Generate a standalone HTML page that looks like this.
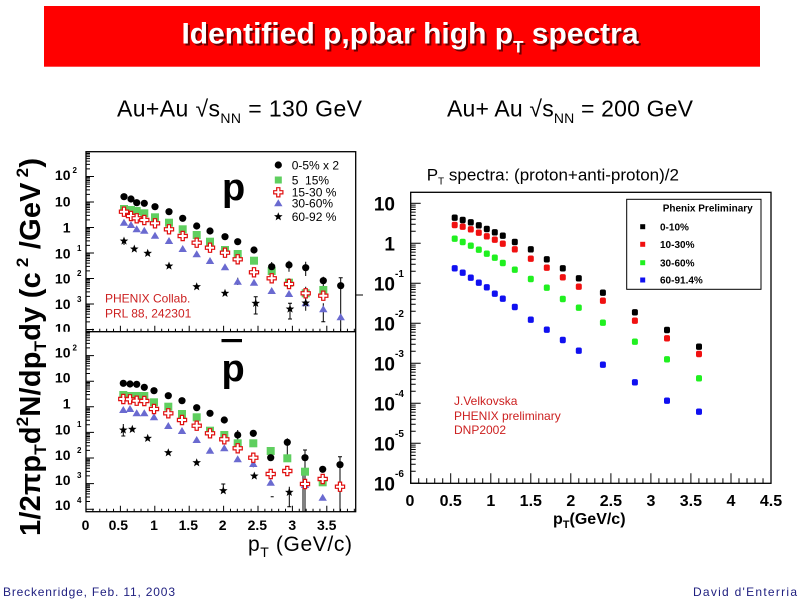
<!DOCTYPE html>
<html><head><meta charset="utf-8"><style>html,body{margin:0;padding:0;background:#fff;}svg{display:block;}</style></head>
<body>
<svg width="800" height="600" viewBox="0 0 800 600" xmlns="http://www.w3.org/2000/svg" font-family="'Liberation Sans', Arial, sans-serif">
<defs>
 <circle id="bc" r="3.6"/>
 <rect id="gs" x="-4" y="-4" width="8" height="8"/>
 <path id="rc" d="M-1.6 -4.6h3.2v3h3v3.2h-3v3h-3.2v-3h-3v-3.2h3z"/>
 <polygon id="bt" points="0,-4 4.2,3 -4.2,3"/>
 <polygon id="st" points="0,-4.5 1.12,-1.54 4.28,-1.39 1.81,0.59 2.65,3.64 0,1.9 -2.65,3.64 -1.81,0.59 -4.28,-1.39 -1.12,-1.54"/>
 <rect id="rm" x="-3" y="-3.2" width="6" height="6.4" rx="1.8"/>
 <path id="h5" d="M0 0v-6m6.88 6v-3m6.88 3v-3m6.88 3v-3m6.88 3v-3"/>
 <path id="rh5" d="M0 0v-10m8.007 10v-5m8.007 5v-5m8.007 5v-5m8.007 5v-5"/>
 <path id="ldec" d="M0 0h8M0 -7.68h4M0 -12.17h4M0 -15.35h4M0 -17.82h4M0 -19.84h4M0 -21.55h4M0 -23.03h4M0 -24.33h4"/>
 <path id="rdec" d="M0 0h10M0 -12.04h5M0 -19.08h5M0 -24.08h5M0 -27.96h5M0 -31.13h5M0 -33.8h5M0 -36.12h5M0 -38.17h5"/>
 <clipPath id="ctop"><rect x="0" y="140" width="90" height="191.7"/></clipPath>
</defs>

<!-- Title bar -->
<rect x="44" y="6" width="716" height="60.7" fill="#ff0000"/>
<text x="412" y="45.3" text-anchor="middle" font-size="30" font-weight="bold" fill="#3a0000" opacity="0.75">Identified p,pbar high p<tspan font-size="17" dy="9">T</tspan><tspan dy="-9"> spectra</tspan></text>
<text x="410" y="43.3" text-anchor="middle" font-size="30" font-weight="bold" fill="#ffffff">Identified p,pbar high p<tspan font-size="17" dy="9">T</tspan><tspan dy="-9"> spectra</tspan></text>

<!-- Subtitles -->
<text x="117" y="116.7" font-size="23" fill="#000" textLength="245">Au+Au √s<tspan font-size="14" dy="6.5">NN</tspan><tspan dy="-6.5"> = 130 GeV</tspan></text>
<text x="447" y="116.7" font-size="23" fill="#000" textLength="246">Au+ Au √s<tspan font-size="14" dy="6.5">NN</tspan><tspan dy="-6.5"> = 200 GeV</tspan></text>

<!-- Left y-axis title -->
<text transform="translate(40,536) rotate(-90)" font-size="29" font-weight="bold" fill="#000" textLength="378">1/2πp<tspan font-size="17" dy="6">T</tspan><tspan dy="-6">d</tspan><tspan font-size="17" dy="-12">2</tspan><tspan dy="12">N/dp</tspan><tspan font-size="17" dy="6">T</tspan><tspan dy="-6">dy (c</tspan><tspan font-size="17" dy="-12"> 2</tspan><tspan dy="12"> /GeV</tspan><tspan font-size="17" dy="-12"> 2</tspan><tspan dy="12">)</tspan></text>

<!-- ========== LEFT PLOT FRAMES ========== -->
<g fill="none" stroke="#000" stroke-width="1.3">
 <rect x="86" y="151.7" width="269.7" height="360"/>
 <line x1="86" y1="331.7" x2="355.7" y2="331.7"/>
</g>
<!-- left y ticks -->
<g stroke="#000" stroke-width="1" fill="none">
 <use href="#ldec" x="86" y="329.5"/><use href="#ldec" x="86" y="304"/><use href="#ldec" x="86" y="278.5"/><use href="#ldec" x="86" y="253"/><use href="#ldec" x="86" y="227.5"/><use href="#ldec" x="86" y="202"/><use href="#ldec" x="86" y="176.5"/>
 <use href="#ldec" x="86" y="509.2"/><use href="#ldec" x="86" y="483.6"/><use href="#ldec" x="86" y="458"/><use href="#ldec" x="86" y="432.4"/><use href="#ldec" x="86" y="406.8"/><use href="#ldec" x="86" y="381.2"/><use href="#ldec" x="86" y="355.6"/>
 <!-- left x ticks top panel -->
 <use href="#h5" x="86" y="331.7"/><use href="#h5" x="120.4" y="331.7"/><use href="#h5" x="154.8" y="331.7"/><use href="#h5" x="189.2" y="331.7"/><use href="#h5" x="223.6" y="331.7"/><use href="#h5" x="258" y="331.7"/><use href="#h5" x="292.4" y="331.7"/><use href="#h5" x="326.8" y="331.7"/>
 <!-- bottom panel -->
 <use href="#h5" x="86" y="511.7"/><use href="#h5" x="120.4" y="511.7"/><use href="#h5" x="154.8" y="511.7"/><use href="#h5" x="189.2" y="511.7"/><use href="#h5" x="223.6" y="511.7"/><use href="#h5" x="258" y="511.7"/><use href="#h5" x="292.4" y="511.7"/><use href="#h5" x="326.8" y="511.7"/>
 <line x1="356" y1="295" x2="363" y2="295"/>
</g>

<!-- left y tick labels top -->
<g font-size="14" font-weight="bold" fill="#000">
 <g text-anchor="end">
  <text x="70.5" y="180">10</text>
  <text x="70.5" y="206.7">10</text>
  <text x="70.5" y="232.3">1</text>
  <text x="70.5" y="258.3">10</text>
  <text x="70.5" y="283.3">10</text>
  <text x="70.5" y="309">10</text>
  <text x="70.5" y="333.5" clip-path="url(#ctop)">10</text>
 </g>
 <g font-size="8">
  <text x="72.5" y="173">2</text>
  <text x="77" y="251">1</text>
  <text x="77" y="276">2</text>
  <text x="77" y="302">3</text>
 </g>
 <!-- bottom -->
 <g text-anchor="end">
  <text x="70.5" y="357.7">10</text>
  <text x="70.5" y="382.3">10</text>
  <text x="70.5" y="408.3">1</text>
  <text x="70.5" y="434.3">10</text>
  <text x="70.5" y="460">10</text>
  <text x="70.5" y="485">10</text>
  <text x="70.5" y="510">10</text>
 </g>
 <g font-size="8">
  <text x="72.5" y="350.5">2</text>
  <text x="77" y="427">1</text>
  <text x="77" y="453">2</text>
  <text x="77" y="478">3</text>
  <text x="77" y="503">4</text>
 </g>
 <!-- x labels -->
 <g text-anchor="middle">
  <text x="85.5" y="530">0</text>
  <text x="118.3" y="530">0.5</text>
  <text x="154" y="530">1</text>
  <text x="188.3" y="530">1.5</text>
  <text x="222.7" y="530">2</text>
  <text x="257.3" y="530">2.5</text>
  <text x="292.3" y="530">3</text>
  <text x="326.7" y="530">3.5</text>
 </g>
</g>
<text x="248" y="551" font-size="21" fill="#000" textLength="104">p<tspan font-size="14" dy="6">T</tspan><tspan dy="-6"> (GeV/c)</tspan></text>

<!-- big p labels -->
<text x="222" y="200" font-size="38" font-weight="bold" fill="#000">p</text>
<text x="221.5" y="381" font-size="38" font-weight="bold" fill="#000">p</text>
<rect x="221.5" y="339" width="20.5" height="3.2" fill="#000"/>

<!-- left legend -->
<g fill="#000"><use href="#bc" x="278.3" y="165" transform="translate(0,0)"/></g>
<rect x="274.8" y="176.5" width="7" height="7" fill="#5fcf5f"/>
<use href="#rc" x="278.3" y="192.3" fill="#fff" stroke="#e01010" stroke-width="1.2"/>
<use href="#bt" x="278.3" y="203.3" fill="#6a6ad0"/>
<use href="#st" x="278.3" y="216.7" fill="#000"/>
<g font-size="12" fill="#000">
 <text x="291.7" y="169.3">0-5% x 2</text>
 <text x="291.7" y="184.3">5&#160;&#160;15%</text>
 <text x="291.7" y="196.6">15-30 %</text>
 <text x="291.7" y="207.6">30-60%</text>
 <text x="291.7" y="221">60-92 %</text>
</g>

<text x="105" y="302.5" font-size="12" fill="#cc2020">PHENIX Collab.</text>
<text x="105" y="317.5" font-size="12" fill="#cc2020">PRL 88, 242301</text>

<!-- error bars left -->
<g stroke="#000" stroke-width="1" fill="none">
 <path d="M124 238v7M271.7 262v10M289 260.7v11M305.7 261.7v14.3M323.3 276.7v10M340.7 277.7v54M255.7 296.7v17.3M290 303.3v15.7M305.7 296.7v14M323.3 303.3v18.4M237.7 277.7v7.3M323.3 291.7v8.3M254 247.3v6M289 278.3v10M305.7 286.7v10"/>
 <path d="M253.7 296.7h4M253.7 314h4M288 303.3h4M288 319h4M303.7 296.7h4M321.3 321.7h4M338.7 277.7h4"/>
 <path d="M123.3 424v12M237.7 430v10M253.3 430v6.7M253.3 460v7.3M287.3 438.3v16.7M289.3 486.7v20M305 450v61.7M303 473.3v38.4M305 481.7v5M340 456.7v55M322.7 476.7v6.6M223.3 484v6.7M270.7 496.7h3"/>
 <path d="M287.3 506.7h4M338 456.7h4M303 450h4M221.3 484h4M121.3 436h4"/>
</g>

<!-- top panel points -->
<g fill="#6a6ad0">
 <use href="#bt" x="124" y="222.7"/><use href="#bt" x="131" y="225"/><use href="#bt" x="136.7" y="229.3"/><use href="#bt" x="144.3" y="230.7"/><use href="#bt" x="155" y="235.7"/><use href="#bt" x="169" y="241"/><use href="#bt" x="182.7" y="249"/><use href="#bt" x="196.7" y="254.3"/><use href="#bt" x="210" y="261"/><use href="#bt" x="225" y="267.3"/><use href="#bt" x="237.7" y="281.7"/><use href="#bt" x="254" y="282.7"/><use href="#bt" x="271.7" y="291"/><use href="#bt" x="289" y="294"/><use href="#bt" x="305.7" y="303.3"/><use href="#bt" x="323.3" y="309.3"/><use href="#bt" x="340.7" y="317.3"/>
</g>
<g fill="#000">
 <use href="#st" x="124" y="241"/><use href="#st" x="134.3" y="249"/><use href="#st" x="147.7" y="253.3"/><use href="#st" x="169" y="266"/><use href="#st" x="196.7" y="286.7"/><use href="#st" x="225" y="293.3"/><use href="#st" x="255.7" y="303.3"/><use href="#st" x="290" y="309"/><use href="#st" x="305.7" y="303"/>
</g>
<g fill="#5fcf5f">
 <use href="#gs" x="124" y="209"/><use href="#gs" x="131" y="210"/><use href="#gs" x="136.7" y="211"/><use href="#gs" x="144.3" y="213.3"/><use href="#gs" x="155" y="217.3"/><use href="#gs" x="169" y="222.7"/><use href="#gs" x="182.7" y="229.3"/><use href="#gs" x="196.7" y="235"/><use href="#gs" x="210" y="241.7"/><use href="#gs" x="225" y="250"/><use href="#gs" x="237.7" y="254"/><use href="#gs" x="254" y="260.7"/><use href="#gs" x="271.7" y="271"/><use href="#gs" x="289" y="282.7"/><use href="#gs" x="305.7" y="293.3"/><use href="#gs" x="323.3" y="290"/>
</g>
<g fill="#fff" stroke="#e01010" stroke-width="1.2">
 <use href="#rc" x="124" y="211.7"/><use href="#rc" x="131" y="216"/><use href="#rc" x="136.7" y="218.3"/><use href="#rc" x="144.3" y="220"/><use href="#rc" x="155" y="223.3"/><use href="#rc" x="169" y="229.3"/><use href="#rc" x="182.7" y="236"/><use href="#rc" x="196.7" y="242.7"/><use href="#rc" x="210" y="247.7"/><use href="#rc" x="225" y="252.7"/><use href="#rc" x="237.7" y="259.3"/><use href="#rc" x="254" y="272.3"/><use href="#rc" x="271.7" y="278.3"/><use href="#rc" x="289" y="284"/><use href="#rc" x="305.7" y="293.3"/><use href="#rc" x="323.3" y="295.7"/>
</g>
<g fill="#000">
 <use href="#bc" x="124" y="196.7"/><use href="#bc" x="131" y="199"/><use href="#bc" x="136.7" y="202.7"/><use href="#bc" x="144.3" y="203.3"/><use href="#bc" x="155" y="206.7"/><use href="#bc" x="169" y="211.7"/><use href="#bc" x="182.7" y="218.3"/><use href="#bc" x="196.7" y="226"/><use href="#bc" x="210" y="231"/><use href="#bc" x="225" y="236.7"/><use href="#bc" x="237.7" y="241.7"/><use href="#bc" x="254" y="250"/><use href="#bc" x="271.7" y="266.7"/><use href="#bc" x="289" y="265"/><use href="#bc" x="305.7" y="267.7"/><use href="#bc" x="323.3" y="280.7"/><use href="#bc" x="340.7" y="285.7"/>
</g>

<!-- bottom panel points -->
<g fill="#6a6ad0">
 <use href="#bt" x="123.3" y="410"/><use href="#bt" x="130" y="409"/><use href="#bt" x="136.7" y="413.3"/><use href="#bt" x="144.3" y="413.3"/><use href="#bt" x="154" y="417.3"/><use href="#bt" x="168.3" y="426"/><use href="#bt" x="182" y="431"/><use href="#bt" x="196.7" y="440"/><use href="#bt" x="210" y="450.7"/><use href="#bt" x="224.3" y="448.3"/><use href="#bt" x="237.7" y="459.3"/><use href="#bt" x="253.3" y="464"/><use href="#bt" x="270.7" y="482.7"/><use href="#bt" x="305" y="485"/><use href="#bt" x="322.7" y="497.7"/>
</g>
<g fill="#000">
 <use href="#st" x="123.3" y="430"/><use href="#st" x="132.3" y="429.3"/><use href="#st" x="147.7" y="438.3"/><use href="#st" x="168.3" y="452.7"/><use href="#st" x="196.7" y="462.7"/><use href="#st" x="223.3" y="490.7"/><use href="#st" x="254.3" y="476"/><use href="#st" x="289.3" y="492.3"/>
</g>
<g fill="#5fcf5f">
 <use href="#gs" x="123.3" y="395"/><use href="#gs" x="130" y="396"/><use href="#gs" x="136.7" y="396"/><use href="#gs" x="144.3" y="396"/><use href="#gs" x="154" y="402.3"/><use href="#gs" x="168.3" y="406.7"/><use href="#gs" x="182" y="414"/><use href="#gs" x="196.7" y="417.3"/><use href="#gs" x="210" y="430.7"/><use href="#gs" x="224.3" y="435"/><use href="#gs" x="237.7" y="443.3"/><use href="#gs" x="253.3" y="443.3"/><use href="#gs" x="270.7" y="451"/><use href="#gs" x="287.3" y="458.3"/><use href="#gs" x="305" y="471.7"/><use href="#gs" x="322.7" y="482.3"/>
</g>
<g fill="#fff" stroke="#e01010" stroke-width="1.2">
 <use href="#rc" x="123.3" y="399"/><use href="#rc" x="130" y="399.3"/><use href="#rc" x="136.7" y="400.7"/><use href="#rc" x="144.3" y="401"/><use href="#rc" x="154" y="409"/><use href="#rc" x="168.3" y="413.3"/><use href="#rc" x="182" y="420"/><use href="#rc" x="196.7" y="425.7"/><use href="#rc" x="210" y="433.3"/><use href="#rc" x="224.3" y="439.3"/><use href="#rc" x="237.7" y="448.3"/><use href="#rc" x="253.3" y="457.7"/><use href="#rc" x="270.7" y="474"/><use href="#rc" x="287.3" y="471"/><use href="#rc" x="305" y="484"/><use href="#rc" x="322.7" y="479"/><use href="#rc" x="340" y="486.7"/>
</g>
<g fill="#000">
 <use href="#bc" x="123.3" y="383.3"/><use href="#bc" x="130" y="384"/><use href="#bc" x="136.7" y="384.3"/><use href="#bc" x="144.3" y="387.3"/><use href="#bc" x="154" y="390.7"/><use href="#bc" x="168.3" y="395.7"/><use href="#bc" x="182" y="400.7"/><use href="#bc" x="196.7" y="407.7"/><use href="#bc" x="210" y="413.3"/><use href="#bc" x="224.3" y="420"/><use href="#bc" x="237.7" y="435"/><use href="#bc" x="253.3" y="433.3"/><use href="#bc" x="270.7" y="457.7"/><use href="#bc" x="287.3" y="442.3"/><use href="#bc" x="305" y="457.7"/><use href="#bc" x="322.7" y="469.3"/><use href="#bc" x="340" y="464.7"/>
</g>

<!-- ========== RIGHT PLOT ========== -->
<text x="426.7" y="180.7" font-size="17" fill="#000">P<tspan font-size="10" dy="4">T</tspan><tspan dy="-4"> spectra: (proton+anti-proton)/2</tspan></text>
<rect x="410.7" y="192.3" width="360.3" height="291" fill="none" stroke="#000" stroke-width="1.3"/>
<g stroke="#000" stroke-width="1" fill="none">
 <use href="#rdec" x="410.7" y="483.3"/><use href="#rdec" x="410.7" y="443.3"/><use href="#rdec" x="410.7" y="403.3"/><use href="#rdec" x="410.7" y="363.3"/><use href="#rdec" x="410.7" y="323.3"/><use href="#rdec" x="410.7" y="283.3"/><use href="#rdec" x="410.7" y="243.3"/>
 <line x1="410.7" y1="203.3" x2="420.7" y2="203.3"/>
 <use href="#rh5" x="410.7" y="483.3"/><use href="#rh5" x="450.7" y="483.3"/><use href="#rh5" x="490.8" y="483.3"/><use href="#rh5" x="530.8" y="483.3"/><use href="#rh5" x="570.8" y="483.3"/><use href="#rh5" x="610.9" y="483.3"/><use href="#rh5" x="650.9" y="483.3"/><use href="#rh5" x="690.9" y="483.3"/><use href="#rh5" x="731" y="483.3"/>
</g>
<g font-weight="bold" fill="#000">
 <g font-size="19" text-anchor="end">
  <text x="395" y="210.3">10</text>
  <text x="395" y="250.3">1</text>
  <text x="395" y="290.3">10</text>
  <text x="395" y="330.3">10</text>
  <text x="395" y="370.3">10</text>
  <text x="395" y="410.3">10</text>
  <text x="395" y="450.3">10</text>
  <text x="395" y="490.3">10</text>
 </g>
 <g font-size="10">
  <text x="395" y="277">-1</text>
  <text x="395" y="317">-2</text>
  <text x="395" y="357">-3</text>
  <text x="395" y="397">-4</text>
  <text x="395" y="437">-5</text>
  <text x="395" y="477">-6</text>
 </g>
 <g font-size="16" text-anchor="middle">
  <text x="410" y="506">0</text>
  <text x="450.7" y="506">0.5</text>
  <text x="490.8" y="506">1</text>
  <text x="530.8" y="506">1.5</text>
  <text x="570.8" y="506">2</text>
  <text x="610.9" y="506">2.5</text>
  <text x="650.9" y="506">3</text>
  <text x="690.9" y="506">3.5</text>
  <text x="731" y="506">4</text>
  <text x="771" y="506">4.5</text>
 </g>
 <text x="553" y="524" font-size="16">p<tspan font-size="11" dy="4">T</tspan><tspan dy="-4">(GeV/c)</tspan></text>
</g>

<!-- legend -->
<rect x="626.7" y="199.3" width="134.3" height="90" fill="#fff" stroke="#000" stroke-width="1"/>
<text x="662.7" y="211.7" font-size="10" font-weight="bold" fill="#000">Phenix Preliminary</text>
<rect x="640.2" y="224.2" width="5" height="5" fill="#000"/>
<rect x="640.2" y="241.8" width="5" height="5" fill="#f01010"/>
<rect x="640.2" y="260.2" width="5" height="5" fill="#20f020"/>
<rect x="640.2" y="277.5" width="5" height="5" fill="#1010f0"/>
<g font-size="10" font-weight="bold" fill="#000">
 <text x="660" y="230.3">0-10%</text>
 <text x="660" y="248">10-30%</text>
 <text x="660" y="266.3">30-60%</text>
 <text x="660" y="283.6">60-91.4%</text>
</g>

<!-- right points -->
<g fill="#000">
 <use href="#rm" x="454.7" y="217.7"/><use href="#rm" x="462.7" y="220"/><use href="#rm" x="470.8" y="222.3"/><use href="#rm" x="478.8" y="225.3"/><use href="#rm" x="486.8" y="229"/><use href="#rm" x="494.8" y="232.3"/><use href="#rm" x="502.8" y="235.7"/><use href="#rm" x="514.8" y="242"/><use href="#rm" x="530.8" y="249.3"/><use href="#rm" x="546.8" y="259.3"/><use href="#rm" x="562.8" y="268.3"/><use href="#rm" x="578.8" y="278.3"/><use href="#rm" x="602.9" y="292.7"/><use href="#rm" x="634.9" y="312.3"/><use href="#rm" x="667" y="330"/><use href="#rm" x="699" y="346.7"/>
</g>
<g fill="#f01010">
 <use href="#rm" x="454.7" y="225"/><use href="#rm" x="462.7" y="226.7"/><use href="#rm" x="470.8" y="229.3"/><use href="#rm" x="478.8" y="232.7"/><use href="#rm" x="486.8" y="236.3"/><use href="#rm" x="494.8" y="239.7"/><use href="#rm" x="502.8" y="243.7"/><use href="#rm" x="514.8" y="249.3"/><use href="#rm" x="530.8" y="258.7"/><use href="#rm" x="546.8" y="267.7"/><use href="#rm" x="562.8" y="277.3"/><use href="#rm" x="578.8" y="286.7"/><use href="#rm" x="602.9" y="300.7"/><use href="#rm" x="634.9" y="320.7"/><use href="#rm" x="667" y="338.3"/><use href="#rm" x="699" y="354"/>
</g>
<g fill="#20f020">
 <use href="#rm" x="454.7" y="238.7"/><use href="#rm" x="462.7" y="242"/><use href="#rm" x="470.8" y="245.7"/><use href="#rm" x="478.8" y="249.7"/><use href="#rm" x="486.8" y="253.7"/><use href="#rm" x="494.8" y="257.7"/><use href="#rm" x="502.8" y="263"/><use href="#rm" x="514.8" y="269.7"/><use href="#rm" x="530.8" y="279"/><use href="#rm" x="546.8" y="287.7"/><use href="#rm" x="562.8" y="299"/><use href="#rm" x="578.8" y="307.7"/><use href="#rm" x="602.9" y="322.7"/><use href="#rm" x="634.9" y="341.7"/><use href="#rm" x="667" y="359.3"/><use href="#rm" x="699" y="378.3"/>
</g>
<g fill="#1010f0">
 <use href="#rm" x="454.7" y="268.3"/><use href="#rm" x="462.7" y="272.7"/><use href="#rm" x="470.8" y="277.7"/><use href="#rm" x="478.8" y="282.7"/><use href="#rm" x="486.8" y="287.3"/><use href="#rm" x="494.8" y="293.7"/><use href="#rm" x="502.8" y="298.7"/><use href="#rm" x="514.8" y="307"/><use href="#rm" x="530.8" y="319.7"/><use href="#rm" x="546.8" y="329.7"/><use href="#rm" x="562.8" y="340"/><use href="#rm" x="578.8" y="350.7"/><use href="#rm" x="602.9" y="364.7"/><use href="#rm" x="634.9" y="382.3"/><use href="#rm" x="667" y="400.7"/><use href="#rm" x="699" y="411.7"/>
</g>

<g font-size="12" fill="#cc2020">
 <text x="454" y="405">J.Velkovska</text>
 <text x="454" y="420">PHENIX preliminary</text>
 <text x="454" y="434">DNP2002</text>
</g>

<!-- footer -->
<text x="3" y="596" font-size="12" fill="#202080" textLength="172">Breckenridge, Feb. 11, 2003</text>
<text x="693" y="596" font-size="12" fill="#202080" textLength="104">David d'Enterria</text>
</svg>
</body></html>
